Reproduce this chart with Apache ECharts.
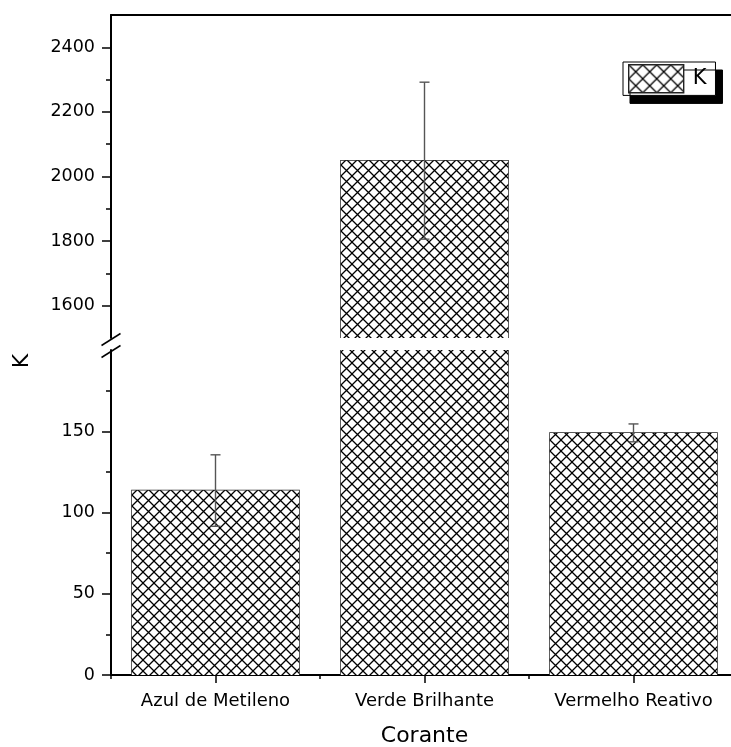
<!DOCTYPE html>
<html>
<head>
<meta charset="utf-8">
<script src="https://cdn.jsdelivr.net/npm/echarts@6/dist/echarts.min.js"></script>
<style>html,body{margin:0;padding:0;background:#fff}#c{width:731px;height:747px}</style>
</head>
<body>
<div id="c"></div>
<script>
// ---- data ----
const categories = ['Azul de Metileno', 'Verde Brilhante', 'Vermelho Reativo'];
const kValues = [113.5, 2049, 149];
const kErrors = [22, 243, 5.5];
const upperMajorTicks = [1600, 1800, 2000, 2200, 2400];
const upperMinorTicks = [1700, 1900, 2100, 2300];
const lowerMajorTicks = [0, 50, 100, 150];
const lowerMinorTicks = [25, 75, 125, 175];
const upperRange = [1500, 2500];
const lowerRange = [0, 200];

const FONT = 'DejaVu Sans';

// crosshatch pattern
function makePattern(p, lw) {
  const cv = document.createElement('canvas');
  cv.width = p; cv.height = p;
  const ctx = cv.getContext('2d');
  ctx.fillStyle = '#fff';
  ctx.fillRect(0, 0, p, p);
  ctx.strokeStyle = '#000';
  ctx.lineWidth = lw;
  ctx.beginPath();
  ctx.moveTo(-1, -1); ctx.lineTo(p + 1, p + 1);
  ctx.moveTo(p + 1, -1); ctx.lineTo(-1, p + 1);
  ctx.stroke();
  return { image: cv, repeat: 'repeat' };
}
const hatch = makePattern(11, 1.3);
const hatchLegend = makePattern(14, 1.3);

const upperData = kValues.map(v => v >= upperRange[0] ? v : '-');
const lowerData = kValues.slice();
const upperIdx = kValues.map((v, i) => i).filter(i => kValues[i] >= upperRange[0]);
const lowerIdx = kValues.map((v, i) => i).filter(i => kValues[i] - kErrors[i] < lowerRange[1]);

function outlineRender(params, api) {
  const i = api.value(0), v = api.value(1);
  const top = api.coord([i, v]);
  const base = api.coord([i, 0]);
  const w = api.size([1, 0])[0] * 0.8;
  const x0 = top[0] - w / 2, x1 = top[0] + w / 2;
  return {
    type: 'polyline',
    shape: { points: [[x0, base[1]], [x0, top[1]], [x1, top[1]], [x1, base[1]]] },
    style: { stroke: '#222', lineWidth: 1.4, fill: null }
  };
}
function errRender(params, api) {
  const i = api.value(0);
  const lo = api.coord([i, api.value(2)]);
  const hi = api.coord([i, api.value(3)]);
  const cw = 5;
  const st = { stroke: '#555', lineWidth: 1.4 };
  return {
    type: 'group',
    children: [
      { type: 'line', shape: { x1: lo[0], y1: lo[1], x2: hi[0], y2: hi[1] }, style: st },
      { type: 'line', shape: { x1: hi[0] - cw, y1: hi[1], x2: hi[0] + cw, y2: hi[1] }, style: st },
      { type: 'line', shape: { x1: lo[0] - cw, y1: lo[1], x2: lo[0] + cw, y2: lo[1] }, style: st }
    ]
  };
}

const axisLineStyle = { color: '#000', width: 2 };
const tickStyle = { color: '#000', width: 1.5 };
const labelStyle = { color: '#000', fontFamily: FONT, fontSize: 17.5, formatter: v => String(v) };

const chart = echarts.init(document.getElementById('c'), null, { renderer: 'canvas' });
chart.setOption({
  animation: false,
  backgroundColor: '#fff',
  grid: [
    { left: 111, right: -7, top: 15, height: 323, outerBoundsMode: 'none', containLabel: false },
    { left: 111, right: -7, top: 350, height: 325, outerBoundsMode: 'none', containLabel: false }
  ],
  legend: {
    left: 623, top: 62,
    data: [{ name: 'K', icon: 'rect', itemStyle: { color: hatchLegend, borderColor: '#222', borderWidth: 1.4 } }],
    itemWidth: 55, itemHeight: 28,
    padding: [2, 9, 2, 5],
    backgroundColor: '#fff', borderColor: '#000', borderWidth: 1,
    shadowColor: '#000', shadowOffsetX: 7, shadowOffsetY: 8, shadowBlur: 0.01,
    selectedMode: false,
    textStyle: { color: '#000', fontFamily: FONT, fontSize: 21, padding: [0, 0, 0, 4] }
  },
  xAxis: [
    { gridIndex: 0, type: 'category', data: categories, position: 'top',
      axisLine: { show: true, lineStyle: axisLineStyle }, axisTick: { show: false }, axisLabel: { show: false }, splitLine: { show: false } },
    { gridIndex: 1, type: 'category', data: categories, position: 'bottom',
      axisLine: { show: true, lineStyle: axisLineStyle },
      axisTick: { show: true, alignWithLabel: true, length: 8, lineStyle: tickStyle },
      axisLabel: { show: true, interval: 0, margin: 17, color: '#000', fontFamily: FONT, fontSize: 18 },
      name: 'Corante', nameLocation: 'middle', nameGap: 50,
      nameTextStyle: { color: '#000', fontFamily: FONT, fontSize: 22 } },
    { gridIndex: 1, type: 'category', data: categories, position: 'bottom',
      axisLine: { show: false }, axisTick: { show: true, length: 4, lineStyle: tickStyle }, axisLabel: { show: false } }
  ],
  yAxis: [
    { gridIndex: 0, type: 'value', min: upperRange[0], max: upperRange[1],
      axisLine: { show: true, lineStyle: axisLineStyle },
      axisTick: { show: true, length: 9, lineStyle: tickStyle, customValues: upperMajorTicks },
      axisLabel: Object.assign({ margin: 16, customValues: upperMajorTicks }, labelStyle),
      splitLine: { show: false } },
    { gridIndex: 0, type: 'value', min: upperRange[0], max: upperRange[1], position: 'left',
      axisLine: { show: false },
      axisTick: { show: true, length: 5, lineStyle: tickStyle, customValues: upperMinorTicks },
      axisLabel: { show: false }, splitLine: { show: false } },
    { gridIndex: 1, type: 'value', min: lowerRange[0], max: lowerRange[1],
      axisLine: { show: true, lineStyle: axisLineStyle },
      axisTick: { show: true, length: 9, lineStyle: tickStyle, customValues: lowerMajorTicks },
      axisLabel: Object.assign({ margin: 16, customValues: lowerMajorTicks }, labelStyle),
      splitLine: { show: false } },
    { gridIndex: 1, type: 'value', min: lowerRange[0], max: lowerRange[1], position: 'left',
      axisLine: { show: false },
      axisTick: { show: true, length: 5, lineStyle: tickStyle, customValues: lowerMinorTicks },
      axisLabel: { show: false }, splitLine: { show: false } }
  ],
  series: [
    { name: 'K', type: 'bar', xAxisIndex: 0, yAxisIndex: 0, data: upperData, barWidth: '80%',
      itemStyle: { color: hatch, borderWidth: 0 }, clip: true },
    { name: 'K', type: 'bar', xAxisIndex: 1, yAxisIndex: 2, data: lowerData, barWidth: '80%',
      itemStyle: { color: hatch, borderWidth: 0 }, clip: true },
    { name: 'outlineU', type: 'custom', xAxisIndex: 0, yAxisIndex: 0, clip: true,
      data: upperIdx.map(i => [i, kValues[i]]), renderItem: outlineRender },
    { name: 'outlineL', type: 'custom', xAxisIndex: 1, yAxisIndex: 2, clip: true,
      data: kValues.map((v, i) => [i, v]), renderItem: outlineRender },
    { name: 'errU', type: 'custom', xAxisIndex: 0, yAxisIndex: 0, clip: true, z: 5,
      data: upperIdx.map(i => [i, kValues[i], kValues[i] - kErrors[i], kValues[i] + kErrors[i]]), renderItem: errRender },
    { name: 'errL', type: 'custom', xAxisIndex: 1, yAxisIndex: 2, clip: true, z: 5,
      data: lowerIdx.map(i => [i, kValues[i], kValues[i] - kErrors[i], kValues[i] + kErrors[i]]), renderItem: errRender }
  ],
  graphic: [
    { type: 'line', shape: { x1: 101.5, y1: 345.5, x2: 120.5, y2: 333.5 }, style: { stroke: '#000', lineWidth: 1.5 } },
    { type: 'line', shape: { x1: 101.5, y1: 357.5, x2: 120.5, y2: 345.5 }, style: { stroke: '#000', lineWidth: 1.5 } },
    { type: 'text', x: 22, y: 361, rotation: Math.PI / 2,
      style: { text: 'K', fill: '#000', font: '22px "DejaVu Sans"', align: 'center', verticalAlign: 'middle' } }
  ]
});
</script>
</body>
</html>
